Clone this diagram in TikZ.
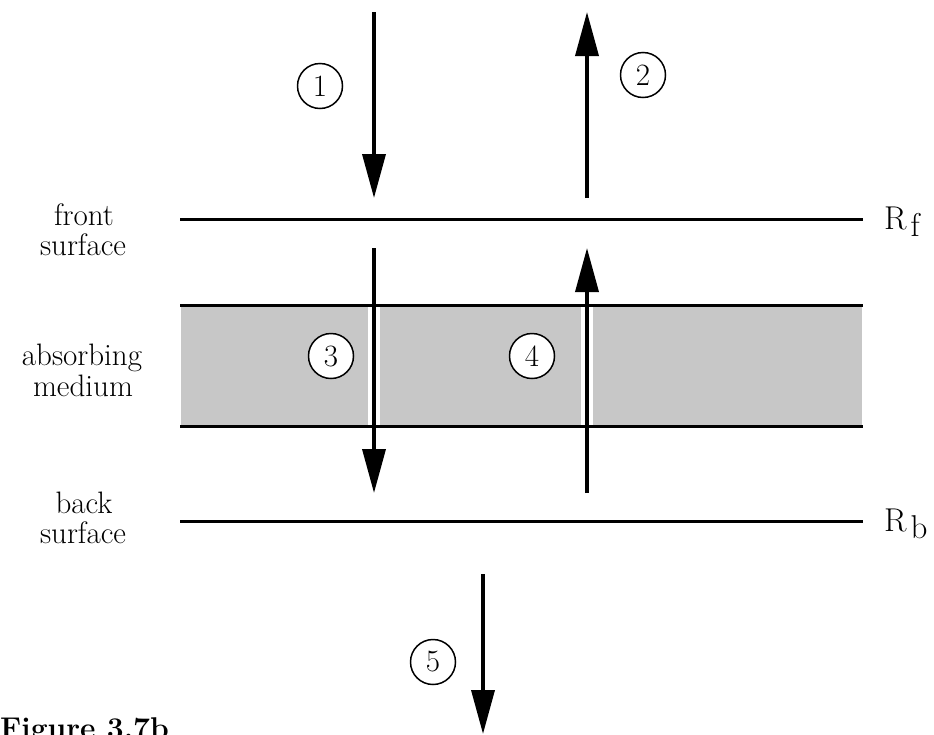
\documentclass[tikz,border=0pt]{standalone}
\usetikzlibrary{arrows.meta}
\tikzset{
  surf/.style={line width=3pt},
  ray/.style={line width=3.6pt,-{Triangle[length=44pt,width=23pt]}},
  num/.style={circle,draw,line width=1.5pt,fill=white,minimum size=45pt,inner sep=0pt,font=\fontsize{31}{32}\selectfont},
  lab/.style={anchor=base,inner sep=0pt,font=\fontsize{31}{34}\selectfont},
  rlab/.style={anchor=base west,inner sep=0pt,font=\fontsize{33}{36}\selectfont}
}
\begin{document}
\begin{tikzpicture}[x=1pt,y=-1pt]
\useasboundingbox[fill=white] (0,0) rectangle (934,734);
% medium band
\fill[black!22] (181,305) rectangle (862,426);
\fill[white] (368,305) rectangle (380,426);
\fill[white] (581,305) rectangle (593,426);
% surfaces
\coordinate (fL) at (180,219); \coordinate (fR) at (863,219);
\coordinate (mTL) at (180,305); \coordinate (mTR) at (863,305);
\coordinate (mBL) at (180,426); \coordinate (mBR) at (863,426);
\coordinate (bL) at (180,521); \coordinate (bR) at (863,521);
\draw[surf] (fL) -- (fR);
\draw[surf] (mTL) -- (mTR);
\draw[surf] (mBL) -- (mBR);
\draw[surf] (bL) -- (bR);
% rays
\coordinate (a1s) at (374,12);  \coordinate (a1e) at (374,198);
\coordinate (a2s) at (587,198); \coordinate (a2e) at (587,12);
\coordinate (a3s) at (374,248); \coordinate (a3e) at (374,493);
\coordinate (a4s) at (587,493); \coordinate (a4e) at (587,248);
\coordinate (a5s) at (483,574); \coordinate (a5e) at (483,734);
\draw[ray] (a1s) -- (a1e);
\draw[ray] (a2s) -- (a2e);
\draw[ray] (a3s) -- (a3e);
\draw[ray] (a4s) -- (a4e);
\draw[ray] (a5s) -- (a5e);
% numbers
\node[num] (n1) at (320,86) {1};
\node[num] (n2) at (643,75) {2};
\node[num] (n3) at (331,356) {3};
\node[num] (n4) at (532,356) {4};
\node[num] (n5) at (433,662) {5};
% labels
\node[lab] (front) at (84,225) {front};
\node[lab] (fsurf) at (83,255) {surface};
\node[lab] (absorb) at (82,365) {absorbing};
\node[lab] (medium) at (83,396) {medium};
\node[lab] (back) at (84,513) {back};
\node[lab] (bsurf) at (83,543) {surface};
\node[rlab] (rf) at (884,229) {R\hspace{4pt}\raisebox{-7pt}{f}};
\node[rlab] (rb) at (884,531) {R\hspace{4pt}\raisebox{-7pt}{b}};
\node[anchor=base west,inner sep=0pt,font=\fontsize{30}{32}\selectfont\bfseries] (fig) at (0,738) {Figure 3.7b};
\end{tikzpicture}
\end{document}
